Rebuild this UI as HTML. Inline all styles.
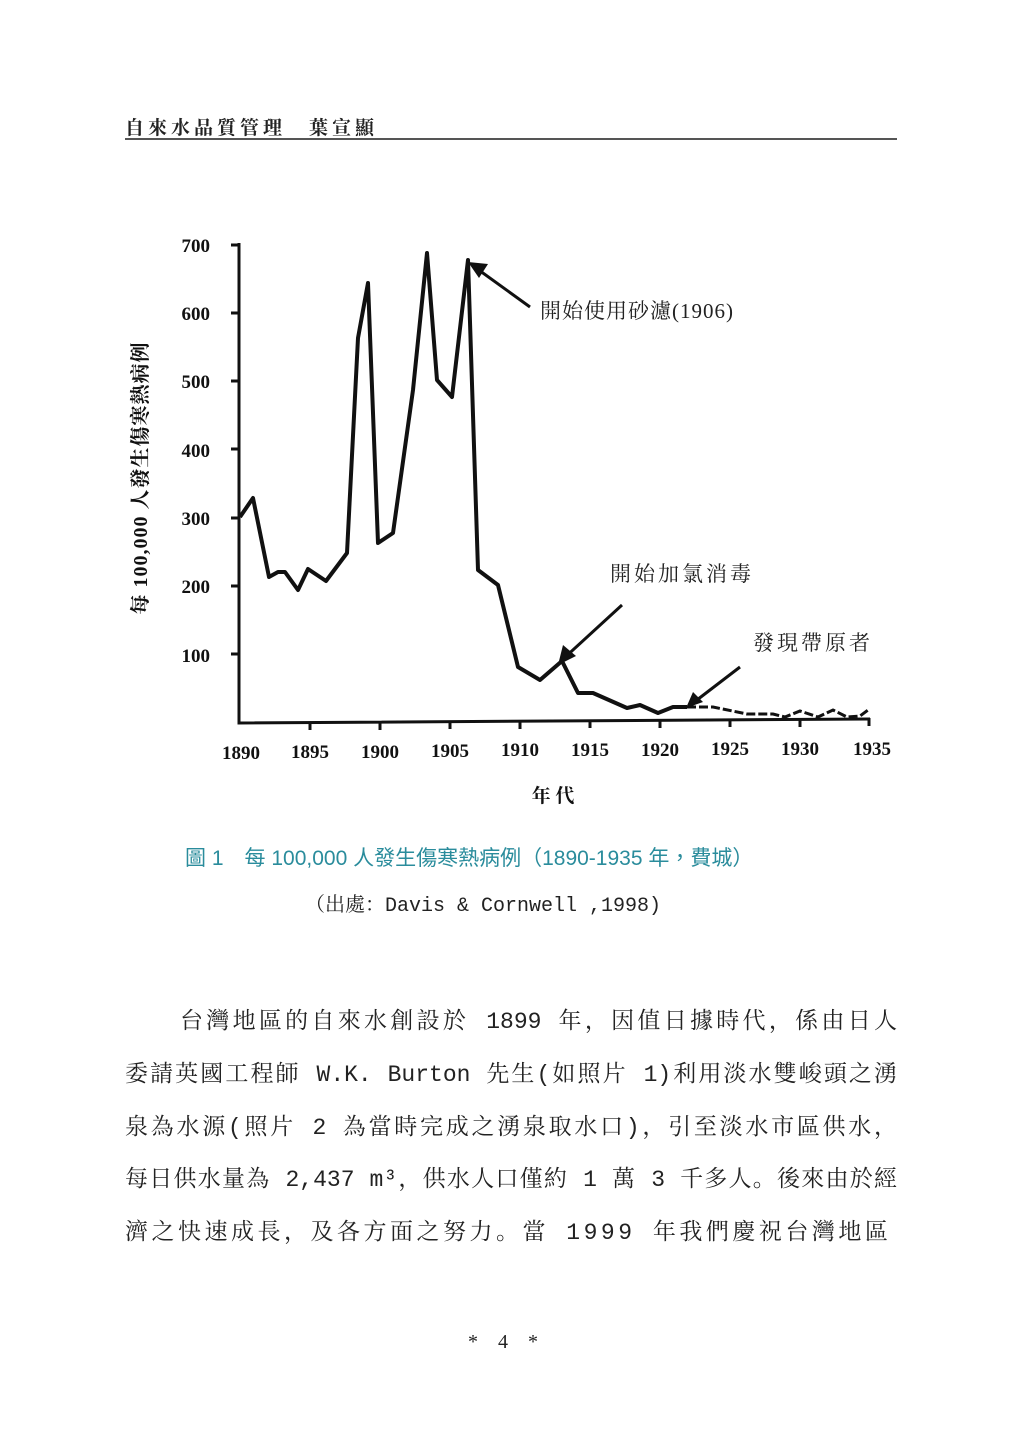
<!DOCTYPE html><html><head><meta charset="utf-8"><style>
body{margin:0;width:1024px;height:1450px;background:#fff;position:relative;font-family:"Liberation Serif","Noto Serif CJK SC",serif;color:#222}
.a{position:absolute;white-space:nowrap}
.j{position:absolute;left:125px;width:772px;text-align:justify;text-align-last:justify;font-size:23px;white-space:nowrap;font-family:"Liberation Mono","Noto Serif CJK SC",serif}
</style></head><body>
<div class="a" style="left:125px;top:113px;font-size:19px;letter-spacing:4px;font-weight:bold;font-family:'Noto Serif CJK SC',serif">自來水品質管理　葉宣顯</div>
<div class="a" style="left:125px;top:138px;width:772px;height:2px;background:#555"></div>
<svg class="a" style="left:0;top:0" width="1024" height="820">
<g font-family="Liberation Serif" font-weight="bold" font-size="19" fill="#111">
<text x="210" y="252" text-anchor="end">700</text><text x="210" y="320" text-anchor="end">600</text><text x="210" y="388" text-anchor="end">500</text><text x="210" y="457" text-anchor="end">400</text><text x="210" y="525" text-anchor="end">300</text><text x="210" y="593" text-anchor="end">200</text><text x="210" y="662" text-anchor="end">100</text>
<text x="241" y="759" text-anchor="middle">1890</text><text x="310" y="758" text-anchor="middle">1895</text><text x="380" y="758" text-anchor="middle">1900</text><text x="450" y="757" text-anchor="middle">1905</text><text x="520" y="756" text-anchor="middle">1910</text><text x="590" y="756" text-anchor="middle">1915</text><text x="660" y="756" text-anchor="middle">1920</text><text x="730" y="755" text-anchor="middle">1925</text><text x="800" y="755" text-anchor="middle">1930</text><text x="872" y="755" text-anchor="middle">1935</text>
<text transform="translate(147,478) rotate(-90)" text-anchor="middle" font-size="20" letter-spacing="1" font-family="Liberation Serif,Noto Serif CJK SC,serif">每 100,000 人發生傷寒熱病例</text>
<text x="553" y="802" text-anchor="middle" font-size="19" font-family="Noto Serif CJK SC,serif">年 代</text>
</g>
<g stroke="#111" stroke-width="3" fill="none">
<path d="M239 243V723L870 719"/>
<path d="M231 245h8M231 313h8M231 381h8M231 449h8M231 518h8M231 586h8M231 654h8M310 722v8M380 722v8M450 721v8M520 721v8M590 720v8M660 720v8M730 719v8M800 719v8M869 718v8"/>
<path stroke-width="4" stroke-linejoin="round" d="M240 517L253 498L269 577L278 572L285 572L298 590L308 569L326 581L347 553L358 338L368 283L378 543L393 533L413 390L427 253L437 380L452 397L468 260L478 570L498 585L518 667L540 680L562 661L578 693L593 693L627 708L640 705L658 713L673 707L687 707"/>
<path stroke-width="3" stroke-dasharray="9 3" d="M687 707L713 707L747 714L773 714L785 717L800 711L818 717L833 710L847 717L860 716L868 710"/>
<path d="M530 307L476 268M622 605L562 660M740 667L693 703"/>
</g>
<g fill="#111"><path d="M468 262L488 264L479 278Z"/><path d="M558 665L563 645L576 656Z"/><path d="M686 708L693 692L703 702Z"/></g>
<g font-family="Liberation Serif,Noto Serif CJK SC,serif" font-size="21" fill="#222">
<text x="540" y="318" letter-spacing="1">開始使用砂濾(1906)</text>
<text x="610" y="581" letter-spacing="3">開始加氯消毒</text>
<text x="753" y="650" letter-spacing="3">發現帶原者</text>
</g>
</svg>
<div class="a" style="left:185px;top:842px;font-size:21px;color:#2a8c9c;font-family:'Liberation Sans','Noto Sans CJK TC',sans-serif">圖 1　每 100,000 人發生傷寒熱病例（1890-1935 年，費城）</div>
<div class="a" style="left:305px;top:888px;font-size:20px;font-family:'Liberation Mono','Noto Serif CJK SC',serif">（出處：Davis &amp; Cornwell ,1998)</div>
<div class="j" style="top:1002px;left:180px;width:717px">台灣地區的自來水創設於 1899 年，因值日據時代，係由日人</div>
<div class="j" style="top:1055px">委請英國工程師 W.K. Burton 先生(如照片 1)利用淡水雙峻頭之湧</div>
<div class="j" style="top:1108px">泉為水源(照片 2 為當時完成之湧泉取水口)，引至淡水市區供水，</div>
<div class="j" style="top:1160px">每日供水量為 2,437 m³，供水人口僅約 1 萬 3 千多人。後來由於經</div>
<div class="a" style="top:1213px;left:125px;font-size:23px;letter-spacing:3.5px;font-family:'Liberation Mono','Noto Serif CJK SC',serif">濟之快速成長，及各方面之努力。當 1999 年我們慶祝台灣地區</div>
<div class="a" style="left:468px;top:1325px;font-size:20px;font-family:'Liberation Serif',serif">*　4　*</div>
</body></html>
